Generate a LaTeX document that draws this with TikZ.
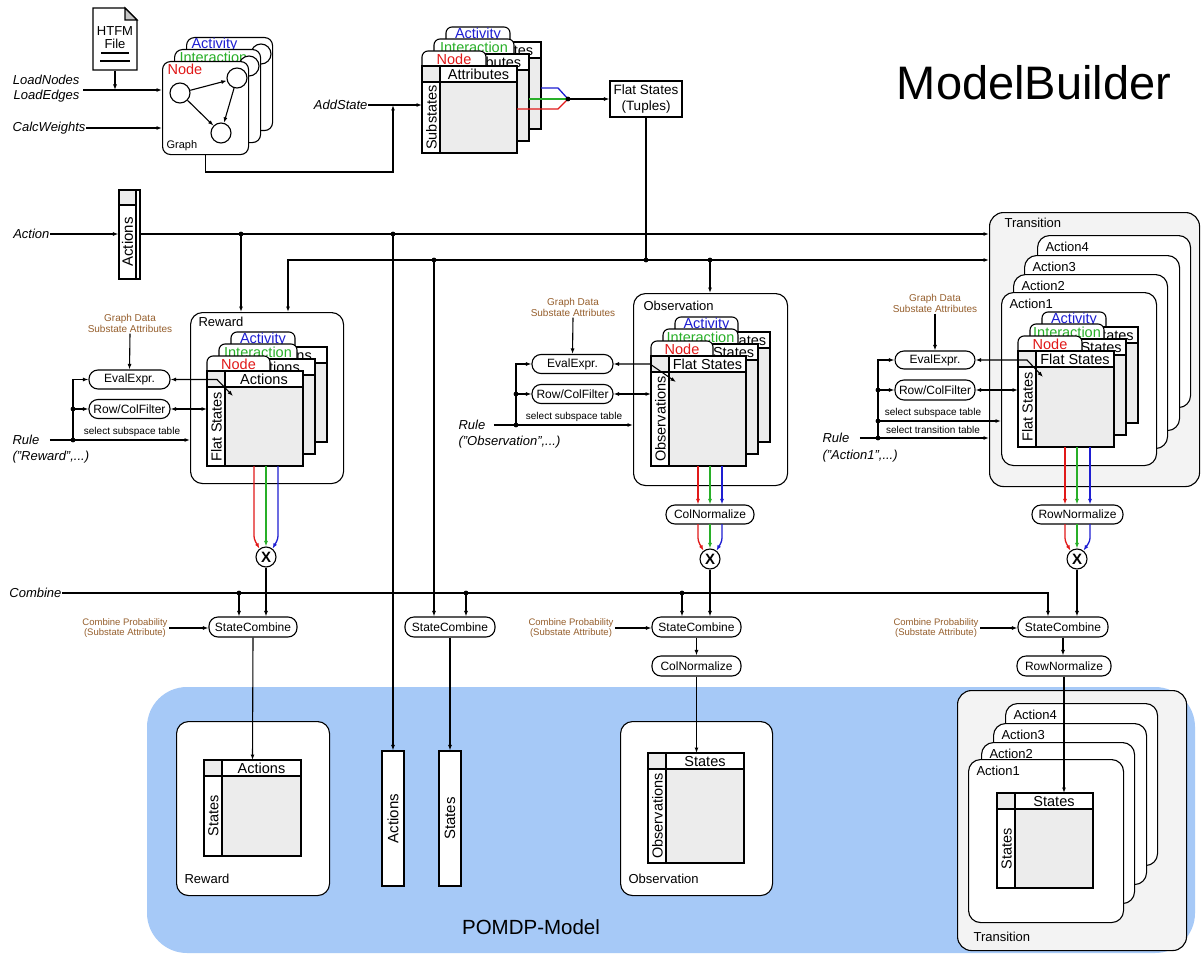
\documentclass[tikz,border=0pt]{standalone}
\usepackage{fontspec}
\setmainfont{Liberation Sans}
\usetikzlibrary{arrows.meta}
\definecolor{cellgray}{RGB}{236,236,236}
\definecolor{boxgray}{RGB}{243,243,243}
\definecolor{pblue}{RGB}{166,201,247}
\definecolor{brn}{RGB}{150,95,45}
\definecolor{cred}{RGB}{225,25,25}
\definecolor{cgreen}{RGB}{40,175,40}
\definecolor{cblue}{RGB}{30,30,210}
\newcommand{\fsz}[2]{\fontsize{#1}{#2}\selectfont}
% plain table: x y W bodyH header left
\newcommand{\ptab}[6]{%
  \draw[fill=white] (#1,#2) rectangle (#1+#3,#2+16);
  \fill[cellgray] (#1,#2) rectangle (#1+18,#2+16);
  \draw (#1,#2) rectangle (#1+#3,#2+16);
  \draw (#1+18,#2) -- (#1+18,#2+16);
  \draw[fill=cellgray] (#1+18,#2+16) rectangle (#1+#3,#2+16+#4);
  \draw[fill=white] (#1,#2+16) rectangle (#1+18,#2+16+#4);
  \node[font=\fsz{14.5}{14.5}, inner sep=0pt] at ({#1+18+(#3-18)/2},#2+8.5) {#5};
  \node[font=\fsz{14.5}{14.5}, inner sep=0pt, rotate=90] at (#1+9.5,{#2+16+#4/2}) {#6};
}
% stacked layer: x y tabW color tablabel header left bodyH W
\newcommand{\stl}[9]{%
  \draw[fill=white, rounded corners=6pt] (#1,#2+15) -- (#1,#2) -- (#1+#3,#2) -- (#1+#3,#2+15);
  \node[text=#4, font=\fsz{14.5}{14.5}, inner sep=0pt] at (#1+#3/2,#2+8) {#5};
  \ptab{#1}{#2+15}{#9}{#8}{#6}{#7}%
}
% graph layer: x y color label name
\newcommand{\glayer}[5]{%
  \begin{scope}[shift={(#1,#2)}]
  \node[draw, fill=white, rounded corners=8pt, minimum width=86pt, minimum height=93pt, inner sep=0pt, anchor=north west] (#5) at (0,0) {};
  \node[text=#3, anchor=west, inner sep=0pt, font=\fsz{14.5}{14.5}] at (5,8) {#4};
  \node[circle, draw, fill=white, minimum size=20pt, inner sep=0pt] (#5a) at (18,32) {};
  \node[circle, draw, fill=white, minimum size=20pt, inner sep=0pt] (#5b) at (75,17) {};
  \node[circle, draw, fill=white, minimum size=20pt, inner sep=0pt] (#5c) at (59,72) {};
  \draw[->] (#5a) -- (#5b);
  \draw[->] (#5a) -- (#5c);
  \draw[->] (#5b) -- (#5c);
  \end{scope}%
}
% action box: x y w h label name
\newcommand{\abox}[6]{%
  \node[draw, fill=white, rounded corners=12pt, anchor=north west, minimum width=#3pt, minimum height=#4pt, inner sep=0pt] (#6) at (#1,#2) {};
  \node[anchor=west, font=\fsz{13}{13}, inner sep=0pt] at ([xshift=8pt, yshift=-12pt]#6.north west) {#5};
}
\begin{document}
\begin{tikzpicture}[x=1pt,y=-1pt,line width=1.1pt,>={Latex[length=5.5pt,width=4pt]},
  jdot/.style={circle,fill,inner sep=0pt,minimum size=4.8pt},
  pill/.style={draw,fill=white,rounded corners=9pt,minimum width=81pt,minimum height=19pt,inner sep=0pt,font=\fsz{12}{12}},
  scb/.style={pill,minimum width=89pt,minimum height=20pt},
  lbl/.style={anchor=west,inner sep=0pt,font=\fsz{13}{13}},
  ital/.style={inner sep=0pt,font=\fsz{13}{15}\itshape},
  brtxt/.style={text=brn,align=center,inner sep=1pt,font=\fsz{10}{11}},
  cptxt/.style={text=brn,align=center,inner sep=1pt,font=\fsz{9.5}{10.5}},
  smtxt/.style={inner sep=0pt,font=\fsz{10}{10}},
  mult/.style={circle,draw,fill=white,minimum size=20pt,inner sep=0pt,font=\fsz{15}{15}\bfseries},
  vbox/.style={draw,fill=white,minimum width=22pt,minimum height=135pt,inner sep=0pt},
  cl/.style={line width=1.3pt}]
\fill[white] (0,0) rectangle (1201,955);
\useasboundingbox (0,0) rectangle (1201,955);

% POMDP region
\fill[pblue, rounded corners=40pt] (147,687) rectangle (1195,953);
\node[font=\fsz{20.5}{20.5}] (pomdp) at (531,927) {POMDP-Model};

% title
\node[font=\fsz{47}{47}, anchor=base] (title) at (1034,100) {ModelBuilder};

% HTFM document
\draw[fill=white] (93,8) -- (125,8) -- (137,20) -- (137,70) -- (93,70) -- cycle;
\draw[fill=gray!45] (125,8) -- (125,20) -- (137,20) -- cycle;
\node[font=\fsz{13}{13}, align=center, inner sep=0pt] at (115,38) {HTFM\\File};
\draw (101,53) -- (129,53);
\draw (100,61) -- (130,61);
\node[minimum width=44pt, minimum height=62pt, inner sep=0pt] (doc) at (115,39) {};

% graph layers
\glayer{186}{37}{cblue}{Activity}{gc}
\glayer{174}{49}{cgreen}{Interaction}{gb}
\glayer{162}{61}{cred}{Node}{ga}
\node[anchor=west, inner sep=0pt, font=\fsz{11}{11}] at (166,146) {Graph};

\node[ital, anchor=east, align=right] (lnodes) at (80,89) {LoadNodes\\LoadEdges};
\node[ital, anchor=east] (calcw) at (86,128) {CalcWeights};
\coordinate (ldin) at (115,90);
\draw[->] (doc.south) -- (ldin);
\draw[->] (83,90) -- (83,90 -| ga.west);
\draw[->] (calcw.east) -- (calcw.east -| ga.west);

% substates stack
\stl{446}{27}{64}{cblue}{Activity}{Attributes}{Substates}{71}{95}
\stl{434}{39}{80}{cgreen}{Interaction}{Attributes}{Substates}{71}{95}
\stl{422}{51}{64}{cred}{Node}{Attributes}{Substates}{71}{95}
\coordinate (subw) at (422,105);
\node[ital, anchor=east] (addst) at (368,105) {AddState};
\coordinate (addj) at (393,105);
\draw[->] (addst.east) -- (subw);
\draw[->] (ga.south) |- (393,172) -- (addj);

\coordinate (mrg) at (568,99);
\draw[cblue, cl] (541,88) -- (558,88) -- (mrg);
\draw[cgreen, cl] (529,99) -- (mrg);
\draw[cred, cl] (517,109) -- (558,109) -- (mrg);
\node[jdot] at (mrg) {};
\node[draw, fill=white, align=center, font=\fsz{13.5}{16}, minimum width=72pt, minimum height=36pt, inner sep=0pt] (flat) at (646,99) {Flat States\\(Tuples)};
\draw[->] (mrg) -- (flat.west);

% Actions top table
\draw[fill=white] (119,190) rectangle (140,279);
\fill[cellgray] (119.5,190.5) rectangle (136,205);
\draw (119,205) -- (136,205);
\draw (136,190) -- (136,279);
\node[rotate=90, font=\fsz{15}{15}, inner sep=0pt] at (127.5,242) {Actions};
\node[minimum width=21pt, minimum height=89pt, inner sep=0pt] (acts) at (129.5,234) {};
\node[ital, anchor=east] (actlbl) at (50,234) {Action};

% Reward box
\node[draw, fill=white, rounded corners=12pt, minimum width=153pt, minimum height=171pt, inner sep=0pt, anchor=north west] (rew) at (190,312) {};
\node[lbl] at (198,322) {Reward};
\stl{231}{332}{64}{cblue}{Activity}{Actions}{Flat States}{79}{96}
\stl{219}{344}{78}{cgreen}{Interaction}{Actions}{Flat States}{79}{96}
\stl{207}{356}{63}{cred}{Node}{Actions}{Flat States}{79}{96}

% Observation box
\node[draw, fill=white, rounded corners=12pt, minimum width=154pt, minimum height=192pt, inner sep=0pt, anchor=north west] (obs) at (633,293) {};
\node[lbl] at (643,306) {Observation};
\stl{675}{317}{63}{cblue}{Activity}{Flat States}{Observations}{94}{95}
\stl{663}{329}{75}{cgreen}{Interaction}{Flat States}{Observations}{94}{95}
\stl{651}{341}{62}{cred}{Node}{Flat States}{Observations}{94}{95}

% Transition box
\node[draw, fill=boxgray, rounded corners=14pt, minimum width=210pt, minimum height=274pt, inner sep=0pt, anchor=north west] (trans) at (989,212) {};
\node[lbl] at (1004,223) {Transition};
\abox{1037}{235}{153}{172}{Action4}{TA4}
\abox{1024}{255}{155}{175}{Action3}{TA3}
\abox{1013}{274}{154}{174}{Action2}{TA2}
\abox{1001}{292}{155}{173}{Action1}{TA1}
\stl{1042}{312}{64}{cblue}{Activity}{Flat States}{Flat States}{80}{96}
\stl{1030}{324}{74}{cgreen}{Interaction}{Flat States}{Flat States}{80}{96}
\stl{1018}{336}{64}{cred}{Node}{Flat States}{Flat States}{80}{96}

% POMDP boxes
\node[draw, fill=white, rounded corners=12pt, anchor=north west, minimum width=153pt, minimum height=174pt, inner sep=0pt] (prew) at (176,721) {};
\node[lbl] at (184,879) {Reward};
\ptab{204}{760}{97}{80}{Actions}{States}
\coordinate (prtop) at (252.5,760);
\node[vbox] (pact) at (393,818.5) {};
\node[rotate=90, font=\fsz{15}{15}, inner sep=0pt] at (pact) {Actions};
\node[vbox] (psta) at (450,818.5) {};
\node[rotate=90, font=\fsz{15}{15}, inner sep=0pt] at (psta) {States};
\node[draw, fill=white, rounded corners=12pt, anchor=north west, minimum width=152pt, minimum height=174pt, inner sep=0pt] (pobs) at (620,721) {};
\node[lbl] at (628,879) {Observation};
\ptab{648}{753}{96}{94}{States}{Observations}
\coordinate (potop) at (696.5,753);
\node[draw, fill=boxgray, rounded corners=14pt, anchor=north west, minimum width=229pt, minimum height=260pt, inner sep=0pt] (ptrans) at (957,690) {};
\node[lbl] at (973,937) {Transition};
\abox{1005}{703}{152}{162}{Action4}{PA4}
\abox{993}{723}{153}{161}{Action3}{PA3}
\abox{981}{742}{153}{161}{Action2}{PA2}
\abox{968}{759}{155}{163}{Action1}{PA1}
\ptab{997}{793}{96}{79}{States}{States}
\coordinate (pttop) at (1064,793);

% ---- Reward controls
\node[brtxt] (gd1) at (130,323) {Graph Data\\Substate Attributes};
\node[pill] (ev1) at (129.5,379.5) {EvalExpr.};
\node[pill] (rc1) at (129.5,409) {Row/ColFilter};
\draw[->] (gd1.south) -- (ev1.north);
\node[ital, anchor=west] (rule1) at (12,440) {Rule};
\node[ital, anchor=west] (rule1b) at (12,457) {("Reward",...)};
\draw[->] ([xshift=10pt]rule1.east) -- (rule1.east -| rew.west);
\node[smtxt] at (132,432) {select subspace table};
\coordinate (r1d) at (73,440);
\coordinate (r1e) at (73,409);
\node[jdot] at (r1d) {};
\node[jdot] at (r1e) {};
\draw[->] (r1d) |- (ev1.west);
\draw[->] (r1e) -- (rc1.west);
\draw[<->] (ev1.east) -- (217,379.5) -- (233,396);
\draw[<->] (rc1.east) -- (207,409);

% ---- Observation controls
\node[brtxt] (gd3) at (573,307) {Graph Data\\Substate Attributes};
\node[pill] (ev3) at (572.5,364) {EvalExpr.};
\node[pill] (rc3) at (572.5,394) {Row/ColFilter};
\draw[->] (gd3.south) -- (ev3.north);
\node[ital, anchor=west] (rule3) at (458,425) {Rule};
\node[ital, anchor=west] (rule3b) at (458,442) {("Observation",...)};
\draw[->] ([xshift=8pt]rule3.east) -- (rule3.east -| obs.west);
\node[smtxt] at (574,417) {select subspace table};
\coordinate (o1d) at (516,425);
\coordinate (o1e) at (516,394);
\node[jdot] at (o1d) {};
\node[jdot] at (o1e) {};
\draw[->] (o1d) |- (ev3.west);
\draw[->] (o1e) -- (rc3.west);
\draw[<->] (ev3.east) -- (650,364) -- (676,382);
\draw[<->] (rc3.east) -- (651,394);

% ---- Transition controls
\node[brtxt] (gd4) at (935,303) {Graph Data\\Substate Attributes};
\node[pill, minimum width=80pt, minimum height=18pt] (ev4) at (935,360) {EvalExpr.};
\node[pill, minimum width=80pt, minimum height=20pt] (rc4) at (935,390) {Row/ColFilter};
\draw[->] (gd4.south) -- (ev4.north);
\node[ital, anchor=west] (rule4) at (822,438) {Rule};
\node[ital, anchor=west] (rule4b) at (822,456) {("Action1",...)};
\draw[->] ([xshift=10pt]rule4.east) -- (rule4.east -| trans.west);
\node[smtxt] at (933,413) {select subspace table};
\node[smtxt] at (933,430) {select transition table};
\coordinate (t1d) at (878,438);
\coordinate (t2d) at (878,421);
\coordinate (t3d) at (878,390);
\node[jdot] at (t1d) {};
\node[jdot] at (t2d) {};
\node[jdot] at (t3d) {};
\draw[->] (t1d) |- (ev4.west);
\draw[->] (t2d) -- (t2d -| TA1.west);
\draw[->] (t3d) -- (rc4.west);
\draw[<->] (ev4.east) -- (1027,360) -- (1043,377);
\draw[<->] (rc4.east) -- (1018,390);

% ---- normalize, multiply, combine nodes
\node[mult] (x1) at (266,557) {X};
\node[pill, minimum width=88pt] (cn1) at (710,514.5) {ColNormalize};
\node[mult] (x2) at (710,559) {X};
\node[pill, minimum width=91pt] (rn1) at (1077.5,514.5) {RowNormalize};
\node[mult] (x3) at (1077,559) {X};
\node[scb, minimum width=88pt] (sc1) at (253,627) {StateCombine};
\node[scb, minimum width=90pt] (sc2) at (450,627) {StateCombine};
\node[scb] (sc3) at (696.5,627) {StateCombine};
\node[scb, minimum width=90pt] (sc4) at (1063,627) {StateCombine};
\node[pill, minimum width=89pt, minimum height=20pt] (cn2) at (696.5,666) {ColNormalize};
\node[pill, minimum width=94pt, minimum height=20pt] (rn2) at (1064,666) {RowNormalize};
\node[cptxt] (cp1) at (125,628) {Combine Probability\\(Substate Attribute)};
\node[cptxt] (cp3) at (571,628) {Combine Probability\\(Substate Attribute)};
\node[cptxt] (cp4) at (936,628) {Combine Probability\\(Substate Attribute)};
\draw[->] (cp1.east) -- (cp1.east -| sc1.west);
\draw[->] (cp3.east) -- (cp3.east -| sc3.west);
\draw[->] (cp4.east) -- (cp4.east -| sc4.west);

% colored lines: reward
\draw[->, cred, cl, rounded corners=3pt] (254,466) -- (254,539) -- (x1.128);
\draw[->, cgreen, cl] (266,466) -- (x1.north);
\draw[->, cblue, cl, rounded corners=3pt] (278,466) -- (278,539) -- (x1.52);
% observation
\draw[->, cred, cl] (698,466) -- (698,466 |- cn1.north);
\draw[->, cgreen, cl] (710,466) -- (710,466 |- cn1.north);
\draw[->, cblue, cl] (722,466) -- (722,466 |- cn1.north);
\draw[->, cred, cl, rounded corners=3pt] (698,524) -- (698,541) -- (x2.128);
\draw[->, cgreen, cl] (710,524) -- (x2.north);
\draw[->, cblue, cl, rounded corners=3pt] (722,524) -- (722,541) -- (x2.52);
% transition
\draw[->, cred, cl] (1065,447) -- (1065,447 |- rn1.north);
\draw[->, cgreen, cl] (1077,447) -- (1077,447 |- rn1.north);
\draw[->, cblue, cl] (1090,447) -- (1090,447 |- rn1.north);
\draw[->, cred, cl, rounded corners=3pt] (1065,524) -- (1065,541) -- (x3.128);
\draw[->, cgreen, cl] (1077,524) -- (x3.north);
\draw[->, cblue, cl, rounded corners=3pt] (1090,524) -- (1090,541) -- (x3.52);

\draw[->] (x1.south) -- (x1.south |- sc1.north);
\draw[->] (x2.south) -- (x2.south |- sc3.north);
\draw[->] (x3.south) -- (x3.south |- sc4.north);
\draw[->] (sc1.south) -- (prtop);
\draw[->] (sc2.south) -- (sc2.south |- psta.north);
\draw[->] (sc3.south) -- (sc3.south |- cn2.north);
\draw[->] (cn2.south) -- (potop);
\draw[->] (sc4.south) -- (sc4.south |- rn2.north);
\draw[->] (rn2.south) -- (pttop);

% ---- Action bus
\draw[->] (actlbl.east) -- (actlbl.east -| acts.west);
\draw[->] (acts.east) -- (acts.east -| trans.west);
\coordinate (ab1) at (241,234);
\coordinate (ab2) at (393,234);
\node[jdot] at (ab1) {};
\node[jdot] at (ab2) {};
\draw[->] (ab1) -- (ab1 |- rew.north);
\draw[->] (ab2) -- (ab2 |- pact.north);

% ---- Flat-state bus
\coordinate (fb0) at (288,260);
\coordinate (fb1) at (434,260);
\coordinate (fb2) at (646,260);
\coordinate (fb3) at (710,260);
\draw[<->] (fb0 -| trans.west) -- (fb0) -- (fb0 |- rew.north);
\draw (flat.south) -- (fb2);
\node[jdot] at (fb1) {};
\node[jdot] at (fb2) {};
\node[jdot] at (fb3) {};
\draw[->] (fb1) -- (fb1 |- sc2.north);
\draw[->] (fb3) -- (fb3 |- obs.north);

% ---- Combine bus
\node[ital, anchor=east] (comb) at (62,593) {Combine};
\coordinate (cb1) at (239,593);
\coordinate (cb2) at (466,593);
\coordinate (cb3) at (682,593);
\coordinate (cb4) at (1048,593);
\draw[->] (comb.east) -- (cb4) -- (cb4 |- sc4.north);
\node[jdot] at (cb1) {};
\node[jdot] at (cb2) {};
\node[jdot] at (cb3) {};
\draw[->] (cb1) -- (cb1 |- sc1.north);
\draw[->] (cb2) -- (cb2 |- sc2.north);
\draw[->] (cb3) -- (cb3 |- sc3.north);
\end{tikzpicture}
\end{document}
